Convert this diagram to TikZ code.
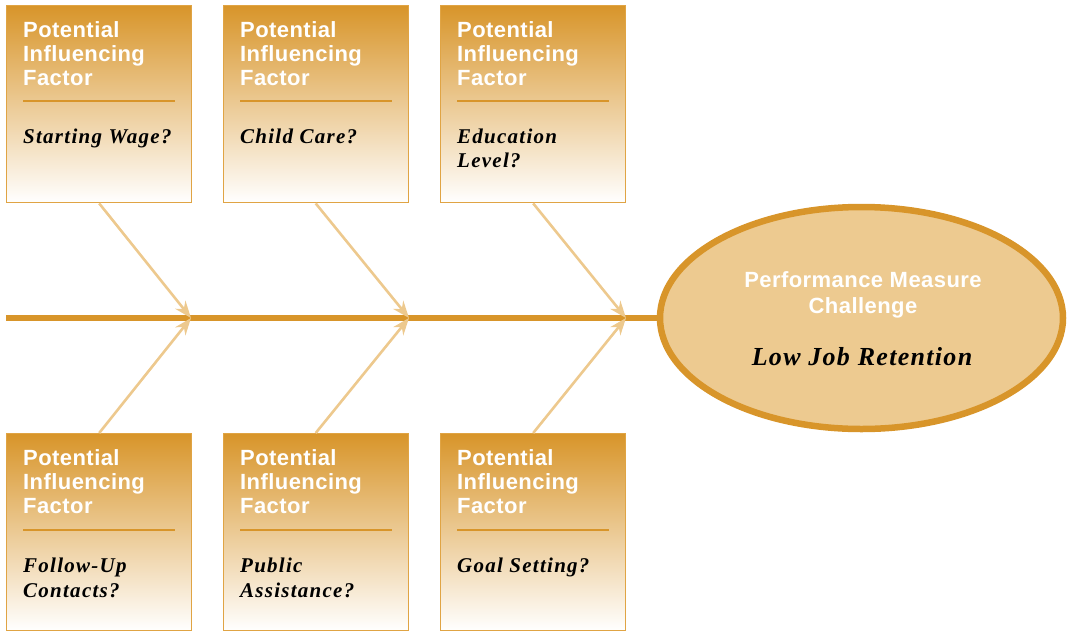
\documentclass[tikz,border=0pt]{standalone}
\usepackage{fontspec}
\setmainfont{Liberation Serif}
\newfontfamily\hdrfont{Liberation Sans}[LetterSpace=2]
\newfontfamily\facfont{Liberation Serif}[LetterSpace=6]
\newfontfamily\bigfacfont{Liberation Serif}[LetterSpace=5]
\usetikzlibrary{arrows.meta,shapes.geometric}
\definecolor{dorange}{HTML}{D8952A}
\definecolor{bordor}{HTML}{E0A444}
\definecolor{lorange}{HTML}{EDC98E}
\definecolor{efill}{HTML}{EDCA90}
\tikzset{
 fbox/.style={draw=bordor, line width=1.4pt, minimum width=185pt, minimum height=197pt,
   inner sep=0pt, anchor=north west, top color=dorange, middle color=dorange!35!white, bottom color=white},
 hdr/.style={anchor=base west, inner sep=0pt, text=white, font=\hdrfont\bfseries\fontsize{22}{24}\selectfont},
 fac/.style={anchor=base west, inner sep=0pt, font=\facfont\bfseries\itshape\fontsize{21}{24}\selectfont},
 sepline/.style={draw=dorange, line width=1.2pt},
 bone/.style={draw=lorange, line width=2.6pt, -{Stealth[length=17pt,width=13pt]}},
 spine/.style={draw=dorange, line width=6.5pt},
}
\begin{document}
\begin{tikzpicture}[x=1pt,y=-1pt]
\useasboundingbox (0,0) rectangle (1071,630);
\clip (0,0) rectangle (1071,630);
% spine and head
\node[ellipse, draw=dorange, line width=6.5pt, fill=efill, minimum width=403pt, minimum height=222pt, inner sep=0pt] (ell) at (861.5,318) {};
\coordinate (s0) at (6,318);
\coordinate (j1) at (191,318);
\coordinate (j2) at (409,318);
\coordinate (j3) at (626,318);
\draw[spine] (s0) -- (ell.west);
\node[hdr, anchor=base] (e1) at (863,287) {Performance Measure};
\node[hdr, anchor=base] (e2) at (863,313) {Challenge};
\node[anchor=base, inner sep=0pt, font=\bigfacfont\bfseries\itshape\fontsize{26}{28}\selectfont] (e3) at (862,365) {Low Job Retention};
% boxes
\node[fbox] (b1) at (6,5) {};
\node[fbox] (b2) at (222.5,5) {};
\node[fbox] (b3) at (440,5) {};
\node[fbox] (b4) at (6,433) {};
\node[fbox] (b5) at (222.5,433) {};
\node[fbox] (b6) at (440,433) {};
% top texts
\foreach \n/\x in {1/23, 2/240, 3/457}{
  \node[hdr] (p\n a) at (\x,37.5) {Potential};
  \node[hdr] (p\n b) at (\x,61.5) {Influencing};
  \node[hdr] (p\n c) at (\x,85.5) {Factor};
  \coordinate (l\n a) at (\x,101);
  \coordinate (l\n b) at (\x+152,101);
  \draw[sepline] (l\n a) -- (l\n b);
}
\foreach \n/\x in {4/23, 5/240, 6/457}{
  \node[hdr] (p\n a) at (\x,465.5) {Potential};
  \node[hdr] (p\n b) at (\x,489.5) {Influencing};
  \node[hdr] (p\n c) at (\x,513.5) {Factor};
  \coordinate (l\n a) at (\x,530);
  \coordinate (l\n b) at (\x+152,530);
  \draw[sepline] (l\n a) -- (l\n b);
}
\node[fac] (f1) at (23,143) {Starting Wage?};
\node[fac] (f2) at (240,143) {Child Care?};
\node[fac] (f3a) at (457,143) {Education};
\node[fac] (f3b) at (457,167) {Level?};
\node[fac] (f4a) at (23,572) {Follow-Up};
\node[fac] (f4b) at (23,597) {Contacts?};
\node[fac] (f5a) at (240,572) {Public};
\node[fac] (f5b) at (240,597) {Assistance?};
\node[fac] (f6) at (457,572) {Goal Setting?};
% bones
\draw[bone] (b1.south) -- (j1);
\draw[bone] (b2.south) -- (j2);
\draw[bone] (b3.south) -- (j3);
\draw[bone] (b4.north) -- (j1);
\draw[bone] (b5.north) -- (j2);
\draw[bone] (b6.north) -- (j3);
\end{tikzpicture}
\end{document}
